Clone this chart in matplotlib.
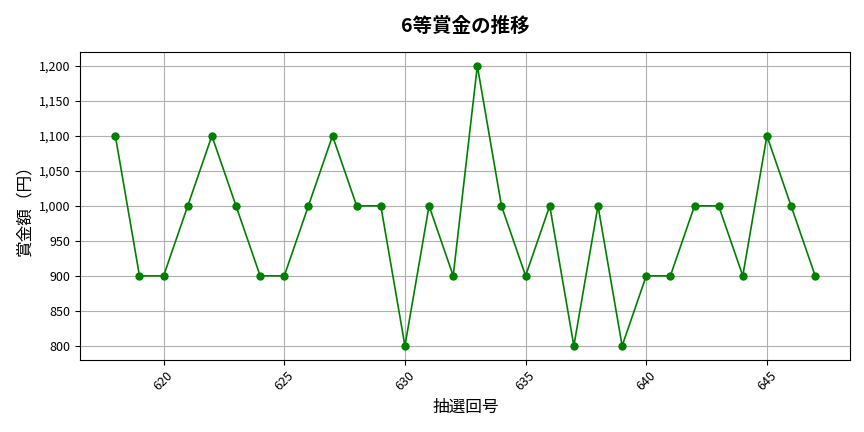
import matplotlib
matplotlib.use("Agg")
import matplotlib.pyplot as plt
from matplotlib.ticker import FuncFormatter

plt.rcParams['font.family'] = ['Noto Sans CJK JP', 'DejaVu Sans']

# 抽選回号 and 6等賞金
draws = list(range(618, 648))
prizes = [1100, 900, 900, 1000, 1100, 1000, 900, 900, 1000, 1100,
          1000, 1000, 800, 1000, 900, 1200, 1000, 900, 1000, 800,
          1000, 800, 900, 900, 1000, 1000, 900, 1100, 1000, 900]

fig, ax = plt.subplots(figsize=(8.64, 4.32), dpi=100)
ax.plot(draws, prizes, color='green', marker='o', markersize=5, linewidth=1.2)

ax.set_title('6等賞金の推移', fontsize=14, fontweight='bold', pad=14)
ax.set_xlabel('抽選回号', fontsize=12)
ax.set_ylabel('賞金額（円）', fontsize=12)
ax.yaxis.set_major_formatter(FuncFormatter(lambda v, p: f'{int(v):,}'))
ax.tick_params(axis='x', labelrotation=45)
ax.tick_params(labelsize=9)
ax.grid(True, color='#b0b0b0', linewidth=0.8)

fig.subplots_adjust(left=0.093, right=0.984, top=0.88, bottom=0.167)
fig.savefig('out.png')
